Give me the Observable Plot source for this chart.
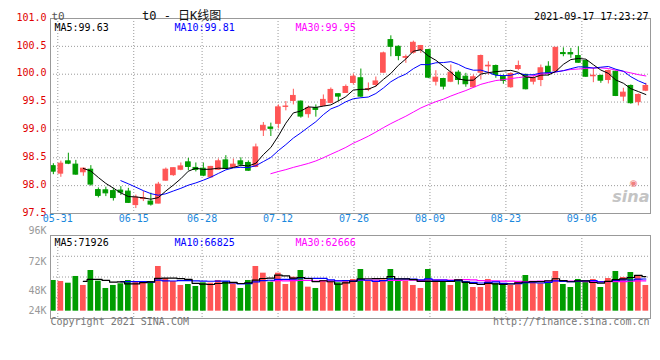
<!DOCTYPE html>
<html><head><meta charset="utf-8">
<script src="https://cdn.jsdelivr.net/npm/d3@7"></script>
<script src="https://cdn.jsdelivr.net/npm/@observablehq/plot@0.6"></script>
<style>
body{margin:0;background:#fff;}
#wrap{position:relative;width:660px;height:360px;overflow:hidden;background:#fff;}
#wrap svg{position:absolute;left:0;}
</style></head><body><div id="wrap"></div>
<script>
const dates = ["05-28","05-31","06-01","06-02","06-03","06-04","06-07","06-08","06-09","06-10","06-11","06-15","06-16","06-17","06-18","06-21","06-22","06-23","06-24","06-25","06-28","06-29","06-30","07-01","07-02","07-05","07-06","07-07","07-08","07-09","07-12","07-13","07-14","07-15","07-16","07-19","07-20","07-21","07-22","07-23","07-26","07-27","07-28","07-29","07-30","08-02","08-03","08-04","08-05","08-06","08-09","08-10","08-11","08-12","08-13","08-16","08-17","08-18","08-19","08-20","08-23","08-24","08-25","08-26","08-27","08-30","08-31","09-01","09-02","09-03","09-06","09-07","09-08","09-09","09-10","09-13","09-14","09-15","09-16","09-17"];
const open = [98.349,98.216,98.436,98.377,98.24,98.286,97.92,97.916,97.902,97.911,
97.893,97.651,97.759,97.714,97.678,98.09,98.188,98.286,98.418,98.318,
98.304,98.149,98.286,98.453,98.336,98.436,98.407,98.335,98.99,99.043,
99.109,99.413,99.521,99.508,99.283,99.39,99.431,99.485,99.641,99.664,
99.843,99.927,99.723,99.807,100.027,100.612,100.492,100.295,100.385,100.433,
100.433,99.866,99.914,99.866,100.027,99.955,99.766,100.027,100.141,100.147,
99.955,99.766,100.093,99.986,99.866,99.896,100.134,100.057,100.379,100.379,
100.326,100.236,99.963,99.968,99.896,100.045,99.598,99.789,99.498,99.705];
const high = [98.394,98.44,98.582,98.453,98.318,98.359,97.959,97.973,97.952,97.982,
97.952,97.83,97.893,97.866,98.059,98.316,98.316,98.407,98.489,98.407,
98.407,98.346,98.479,98.538,98.479,98.5,98.444,98.746,99.133,99.122,
99.449,99.51,99.73,99.521,99.431,99.449,99.628,99.753,99.646,99.807,
100.004,100.093,99.843,99.95,100.397,100.689,100.51,100.344,100.594,100.517,
100.446,100.063,99.927,100.165,100.063,100.016,99.986,100.344,100.224,100.165,
99.986,100.027,100.236,100.004,99.968,100.165,100.224,100.474,100.474,100.463,
100.492,100.254,100.106,99.986,100.075,100.057,99.748,99.807,99.646,99.837];
const low = [98.197,98.15,98.377,98.186,98.168,97.99,97.78,97.803,97.723,97.825,
97.679,97.589,97.714,97.633,97.673,98.078,98.167,98.268,98.268,98.246,
98.161,98.138,98.274,98.286,98.32,98.336,98.256,98.322,98.882,98.882,
99.02,99.342,99.449,99.211,99.211,99.229,99.419,99.467,99.508,99.655,
99.807,99.58,99.687,99.766,100.022,100.313,100.242,100.195,100.361,100.374,
99.92,99.789,99.718,99.848,99.807,99.766,99.748,99.896,99.986,99.927,
99.82,99.748,100.063,99.718,99.807,99.777,99.968,100.045,100.313,100.285,
100.195,99.945,99.848,99.837,99.825,99.598,99.508,99.462,99.431,99.687];
const close = [98.251,98.394,98.394,98.198,98.305,98.019,97.816,97.862,97.777,97.875,
97.691,97.785,97.773,97.66,98.018,98.286,98.313,98.345,98.336,98.282,
98.179,98.336,98.436,98.304,98.377,98.377,98.268,98.686,99.074,99.02,
99.405,99.42,99.61,99.24,99.39,99.36,99.539,99.718,99.598,99.771,
99.955,99.598,99.735,99.87,100.374,100.492,100.326,100.308,100.564,100.505,
99.938,99.938,99.777,100.027,99.896,99.82,99.945,100.326,100.152,99.986,
99.879,100.004,100.147,99.73,99.927,100.106,100.016,100.474,100.361,100.356,
100.206,99.955,99.973,99.884,100.057,99.61,99.669,99.48,99.628,99.789];
const volume = [63400,61300,57800,71700,53100,84000,62000,46900,53100,56600,
63400,61300,59900,61300,92300,67500,61300,53100,55100,51000,
58600,57800,63400,61300,56600,46900,63400,92300,78500,59900,
78500,55100,70200,84000,49600,46900,63400,59900,58600,63400,
65500,86100,61300,59900,64800,86100,61300,61300,53100,46900,
86100,61300,59300,53100,63400,61300,48900,48900,65500,56600,
56600,53100,61300,73700,61300,56600,61300,82000,55100,48900,
65500,61300,65500,48900,67500,82000,69600,79900,71700,53100];
const priceTicks = [97.5,98.0,98.5,99.0,99.5,100.0,100.5,101.0];
const dateLabels = ["05-31","06-15","06-28","07-12","07-26","08-09","08-23","09-06"];
const volTickLabels = ["96K","72K","48K","24K"];
const volTickAt = [165600,101600,42700,1400];
const priceMALabels = ["MA5:99.63","MA10:99.81","MA30:99.95"];
const volMALabels = ["MA5:71926","MA10:66825","MA30:62666"];
const maColors = ["#000000","#0000ff","#ff00ff"];
const titleText = "t0 - 日K线图";
const stampText = "2021-09-17 17:23:27";

const RED = "#ff5555", GREEN = "#009c00";
const rows = dates.map((d,i)=>({i, date:d, open:open[i], high:high[i], low:low[i], close:close[i], volume:volume[i], up: close[i] >= open[i]}));
const colorOf = d => d.up ? RED : GREEN;
function ma(arr,k){ return arr.map((_,i)=> i < k-1 ? NaN : d3.mean(arr.slice(i-k+1,i+1))); }
const c5=ma(close,5), c10=ma(close,10), c30=ma(close,30);
const v5=ma(volume,5), v10=ma(volume,10), v30=ma(volume,30);
const gridX = dateLabels.map(l => dates.indexOf(l)*80/79 - 0.42);
const FONT = "'DejaVu Sans Mono', 'Noto Sans CJK SC', monospace";
const gridStyle = {stroke:"#9a9a9a", strokeDasharray:"1,2"};
const xDom = [-0.38, 79.62];
const legendDx = [4, 124, 245];

const pricePlot = Plot.plot({
  width:660, height:228, marginLeft:50, marginRight:10, marginTop:18, marginBottom:15,
  x:{domain:xDom, axis:null},
  y:{domain:[97.5,101], axis:null},
  color:{type:"identity"},
  style:{fontFamily:FONT, fontSize:"10px", background:"transparent", overflow:"visible"},
  marks:[
    Plot.ruleY(priceTicks.slice(1,-1), gridStyle),
    Plot.ruleX(gridX, gridStyle),
    Plot.text(["sina"], {frameAnchor:"bottom-right", dx:-1, dy:-12, textAnchor:"end", fontSize:16, fontStyle:"italic", fontWeight:"bold", fill:"#c4c4c4", fontFamily:"DejaVu Sans"}),
    Plot.text(["◉"], {frameAnchor:"bottom-right", dx:-17, dy:-28, textAnchor:"middle", fontSize:9, fill:"#f08080", fontFamily:"DejaVu Sans"}),
    Plot.ruleX(rows, {x:"i", y1:"low", y2:"high", stroke:colorOf}),
    Plot.rect(rows, {x1:d=>d.i-0.31, x2:d=>d.i+0.31, y1:"open", y2:"close", fill:colorOf, stroke:colorOf}),
    Plot.line(rows, {x:"i", y:d=>c30[d.i], stroke:"#ff00ff", strokeWidth:1}),
    Plot.line(rows, {x:"i", y:d=>c10[d.i], stroke:"#0000ff", strokeWidth:1}),
    Plot.line(rows, {x:"i", y:d=>c5[d.i], stroke:"#000000", strokeWidth:1}),
    Plot.frame({stroke:"#999"}),
    Plot.text(priceTicks, {y:d=>d, frameAnchor:"left", dx:-4, textAnchor:"end", text:d=>d.toFixed(1), fill:"#e00000", dy:-1}),
    Plot.text(dateLabels, {x:(l,j)=>gridX[j], frameAnchor:"bottom", dy:8, text:d=>d, fill:"#1a88dd"}),
    Plot.text(["t0"], {frameAnchor:"top-left", dx:1, dy:-6.5, textAnchor:"start", fill:"#555", fontSize:11}),
    Plot.text([titleText], {frameAnchor:"top-left", dx:91.5, dy:-7.5, textAnchor:"start", fill:"#111", fontSize:12}),
    Plot.text([stampText], {frameAnchor:"top-right", dx:-2, dy:-6, textAnchor:"end", fill:"#000"}),
    ...priceMALabels.map((t,j)=>Plot.text([t], {frameAnchor:"top-left", dx:legendDx[j], dy:5.5, textAnchor:"start", fill:maColors[j]}))
  ]
});
pricePlot.style.top = "0px";

const vDom = [-15100, 156300];
const volGrid = [1,2,3].map(k => vDom[0] + (vDom[1]-vDom[0])*k/4);
const volPlot = Plot.plot({
  width:660, height:134, marginLeft:50, marginRight:10, marginTop:9, marginBottom:42,
  x:{domain:xDom, axis:null},
  y:{domain:vDom, axis:null},
  color:{type:"identity"},
  style:{fontFamily:FONT, fontSize:"10px", background:"transparent", overflow:"visible"},
  marks:[
    Plot.ruleY(volGrid, gridStyle),
    Plot.ruleX(gridX, gridStyle),
    Plot.rect(rows, {x1:d=>d.i-0.38, x2:d=>d.i+0.38, y1:0, y2:"volume", fill:colorOf}),
    Plot.line(rows, {x:"i", y:d=>v30[d.i], stroke:"#ff00ff", strokeWidth:1.2, curve:"step"}),
    Plot.line(rows, {x:"i", y:d=>v10[d.i], stroke:"#0000ff", strokeWidth:1.2, curve:"step"}),
    Plot.line(rows, {x:"i", y:d=>v5[d.i], stroke:"#000000", strokeWidth:1.2, curve:"step"}),
    Plot.frame({stroke:"#999"}),
    Plot.text(volTickLabels, {y:(d,j)=>volTickAt[j], frameAnchor:"left", dx:-4, textAnchor:"end", text:d=>d, fill:"#999"}),
    ...volMALabels.map((t,j)=>Plot.text([t], {frameAnchor:"top-left", dx:legendDx[j], dy:3.5, textAnchor:"start", fill:maColors[j]})),
    Plot.text(["Copyright 2021 SINA.COM"], {frameAnchor:"bottom-left", dy:6, textAnchor:"start", fill:"#777"}),
    Plot.text(["http://finance.sina.com.cn"], {frameAnchor:"bottom-right", dx:-1, dy:6, textAnchor:"end", fill:"#777"})
  ]
});
volPlot.style.top = "226px";

const wrap = document.getElementById("wrap");
wrap.appendChild(pricePlot);
wrap.appendChild(volPlot);
</script></body></html>
